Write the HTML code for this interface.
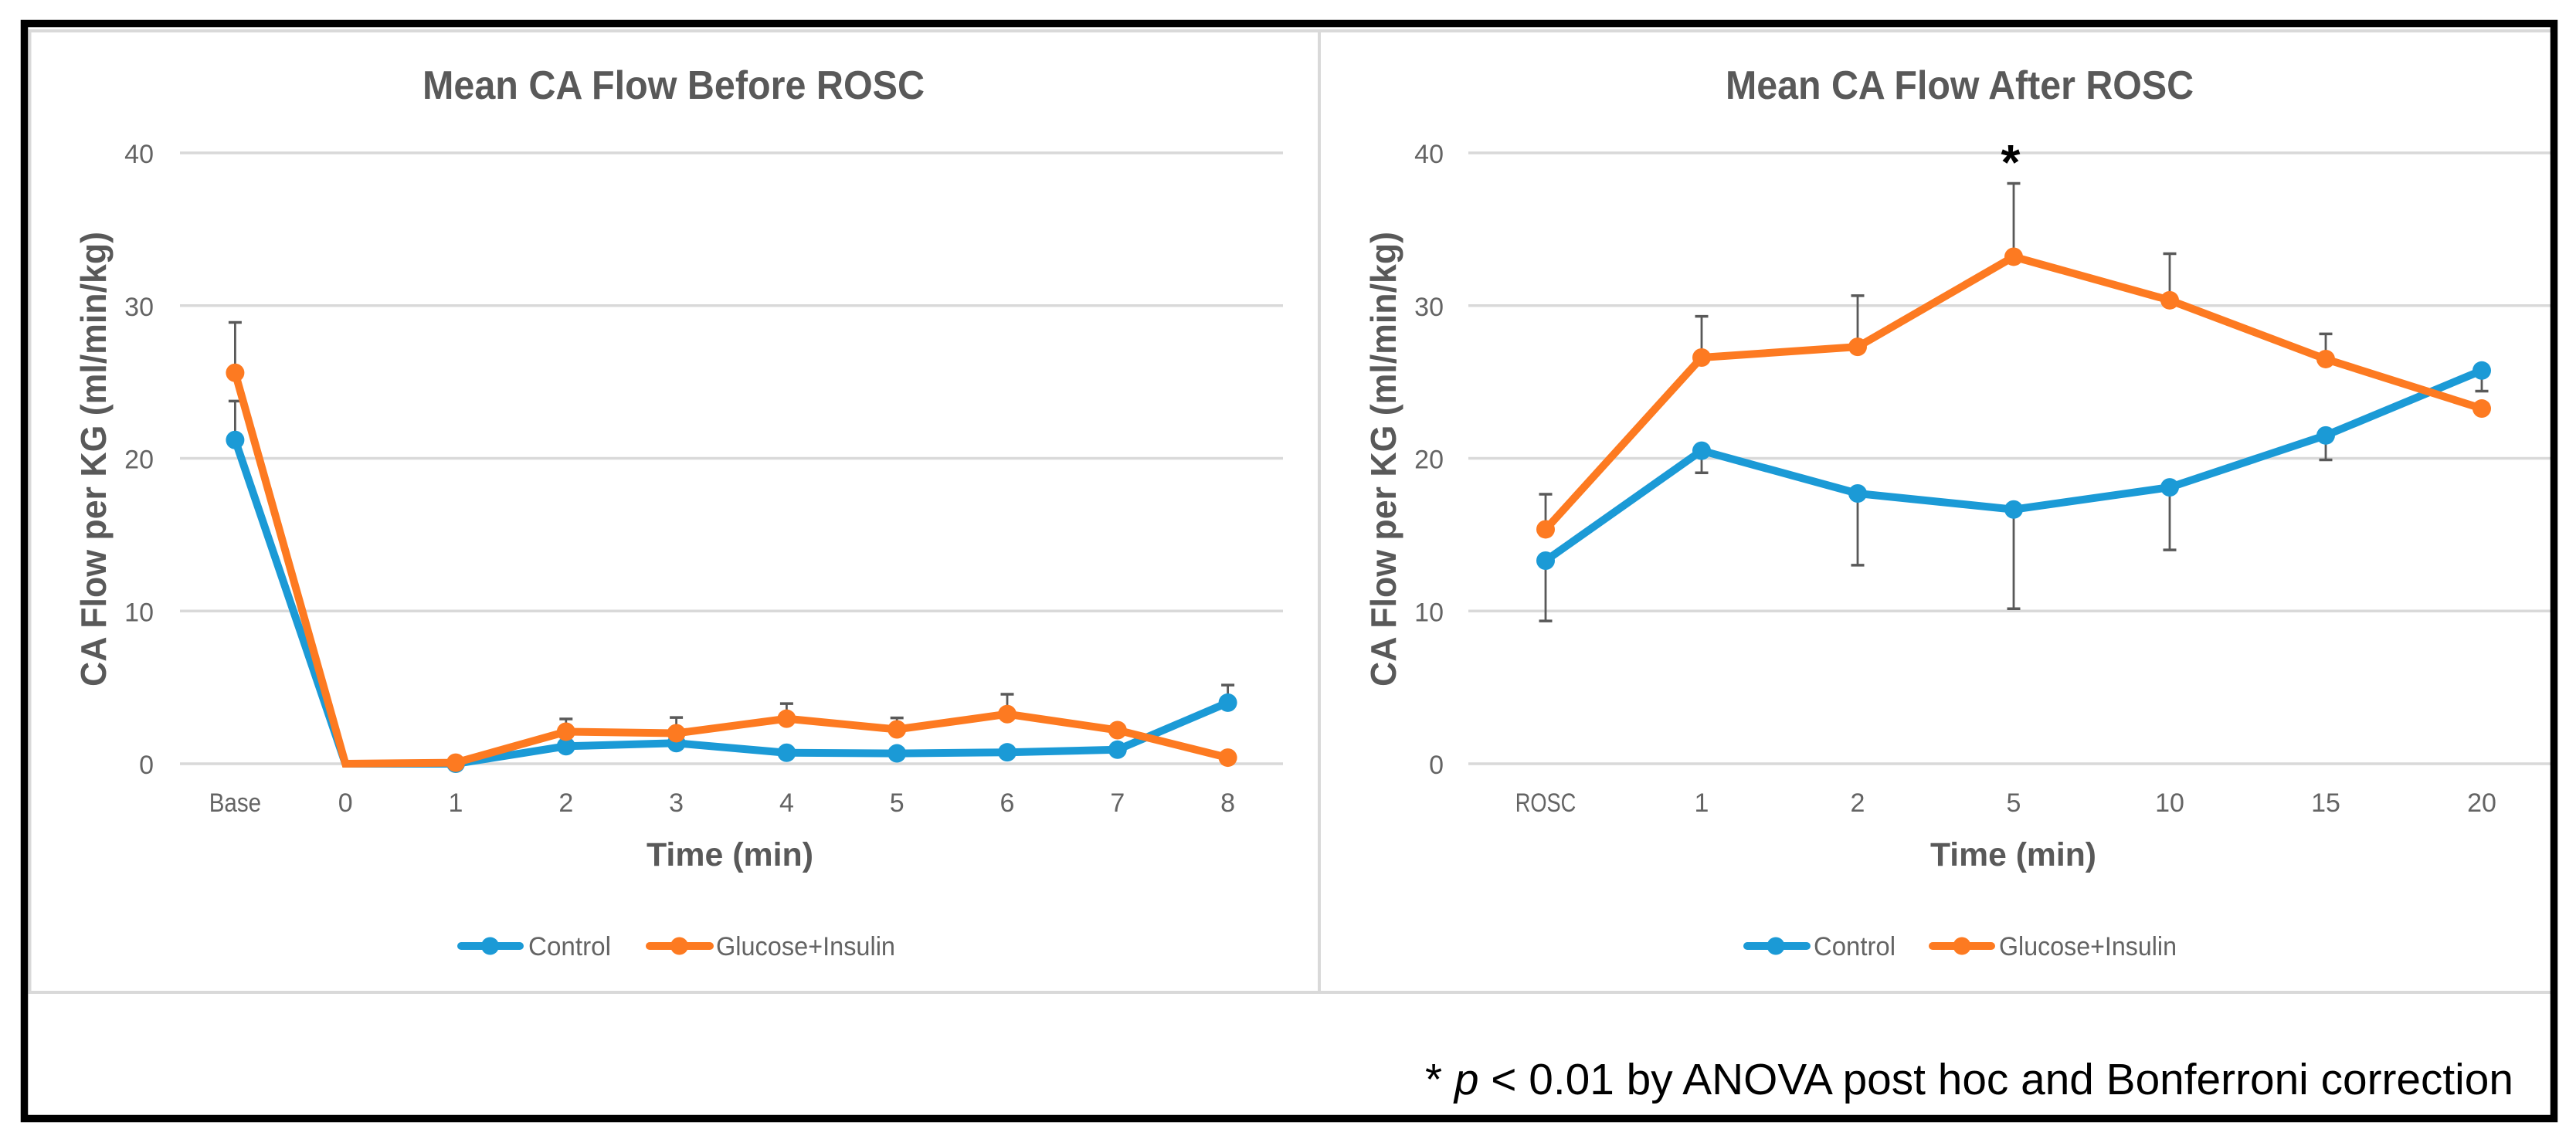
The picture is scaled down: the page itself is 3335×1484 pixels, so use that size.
<!DOCTYPE html>
<html lang="en">
<head>
<meta charset="utf-8">
<title>Mean CA Flow Before and After ROSC</title>
<style>
  html, body { margin: 0; padding: 0; background: #fff; }
  svg { display: block; font-family: "Liberation Sans", sans-serif; }
  .title { font-size: 52px; font-weight: bold; fill: #595959; }
  .axis-title { font-size: 43px; font-weight: bold; fill: #595959; }
  .y-title { font-size: 46px; font-weight: bold; fill: #595959; }
  .tick { font-size: 34px; fill: #646464; }
  .legend-text { font-size: 34px; fill: #646464; }
</style>
</head>
<body>
<svg id="figure" xmlns="http://www.w3.org/2000/svg" width="3335" height="1484" viewBox="0 0 3335 1484">
  <rect x="0" y="0" width="3335" height="1484" fill="#fff"/>

  <!-- chart panel borders -->
  <rect x="38.5" y="40" width="1669.5" height="1245" fill="none" stroke="#d9d9d9" stroke-width="4"/>
  <rect x="1708" y="40" width="1600" height="1245" fill="none" stroke="#d9d9d9" stroke-width="4"/>

  <g id="chart-before"></g>
  <g id="chart-after"></g>

  <!-- titles -->
  <text class="title" x="547" y="128" textLength="650" lengthAdjust="spacingAndGlyphs">Mean CA Flow Before ROSC</text>
  <text class="title" x="2234" y="128" textLength="606" lengthAdjust="spacingAndGlyphs">Mean CA Flow After ROSC</text>

  <!-- axis titles -->
  <text class="y-title" transform="translate(137 889) rotate(-90)" textLength="589" lengthAdjust="spacingAndGlyphs">CA Flow per KG (ml/min/kg)</text>
  <text class="y-title" transform="translate(1807 889) rotate(-90)" textLength="589" lengthAdjust="spacingAndGlyphs">CA Flow per KG (ml/min/kg)</text>
  <text class="axis-title" x="837" y="1121" textLength="216" lengthAdjust="spacingAndGlyphs">Time (min)</text>
  <text class="axis-title" x="2499" y="1121" textLength="215" lengthAdjust="spacingAndGlyphs">Time (min)</text>

  <!-- legend: before -->
  <g>
    <g>
      <line x1="597" y1="1225" x2="673" y2="1225" stroke="#1b9ad6" stroke-width="10" stroke-linecap="round"/>
      <circle cx="634.5" cy="1225" r="11.5" fill="#1b9ad6"/>
      <text class="legend-text" x="684" y="1237" textLength="107" lengthAdjust="spacingAndGlyphs">Control</text>
    </g>
    <g>
      <line x1="841" y1="1225" x2="919" y2="1225" stroke="#fd7a21" stroke-width="10" stroke-linecap="round"/>
      <circle cx="879.5" cy="1225" r="11.5" fill="#fd7a21"/>
      <text class="legend-text" x="927" y="1237" textLength="232" lengthAdjust="spacingAndGlyphs">Glucose+Insulin</text>
    </g>
  </g>

  <!-- legend: after -->
  <g>
    <g>
      <line x1="2262" y1="1225" x2="2339" y2="1225" stroke="#1b9ad6" stroke-width="10" stroke-linecap="round"/>
      <circle cx="2299" cy="1225" r="11.5" fill="#1b9ad6"/>
      <text class="legend-text" x="2348" y="1237" textLength="106" lengthAdjust="spacingAndGlyphs">Control</text>
    </g>
    <g>
      <line x1="2502" y1="1225" x2="2578" y2="1225" stroke="#fd7a21" stroke-width="10" stroke-linecap="round"/>
      <circle cx="2540" cy="1225" r="11.5" fill="#fd7a21"/>
      <text class="legend-text" x="2588" y="1237" textLength="230" lengthAdjust="spacingAndGlyphs">Glucose+Insulin</text>
    </g>
  </g>

  <!-- significance star -->
  <text x="2603" y="232" text-anchor="middle" font-size="64" font-weight="bold" fill="#000">*</text>

  <!-- footnote -->
  <text x="1845" y="1417" font-size="57" fill="#000" textLength="1409" lengthAdjust="spacingAndGlyphs">* <tspan font-style="italic">p</tspan> &lt; 0.01 by ANOVA post hoc and Bonferroni correction</text>

  <!-- outer black frame -->
  <rect x="31.5" y="30.5" width="3275" height="1418" fill="none" stroke="#000" stroke-width="9.5"/>
</svg>

<script>
// ---- shared axis data ----
const yTicks = [0, 10, 20, 30, 40];

// ---- before ROSC ----
const beforeCategories = ['Base', '0', '1', '2', '3', '4', '5', '6', '7', '8'];
const beforeControl = [21.2, 0, 0, 1.15, 1.35, 0.72, 0.68, 0.75, 0.92, 4.0];
const beforeGlucose = [25.6, 0, 0.07, 2.1, 2.0, 2.95, 2.25, 3.25, 2.2, 0.4];
const beforeControlErrUp = [2.55, 0, 0, 0, 0, 0, 0, 0, 0, 1.15];
const beforeGlucoseErrUp = [3.3, 0, 0, 0.83, 1.03, 0.99, 0.75, 1.3, 0, 0];
const beforeHiddenMarkers = ['0'];

// ---- after ROSC ----
const afterCategories = ['ROSC', '1', '2', '5', '10', '15', '20'];
const afterControl = [13.3, 20.5, 17.7, 16.65, 18.1, 21.5, 25.75];
const afterGlucose = [15.35, 26.6, 27.3, 33.2, 30.35, 26.5, 23.26];
const afterControlErrDown = [3.95, 1.45, 4.7, 6.5, 4.1, 1.6, 1.35];
const afterGlucoseErrUp = [2.3, 2.7, 3.35, 4.8, 3.05, 1.65, 0];
const afterHiddenMarkers = [];

const SVG_NS = 'http://www.w3.org/2000/svg';
const BLUE = '#1b9ad6';
const ORANGE = '#fd7a21';

// vertical axis shared by both charts
function yScale(v) {
  return 989 - v * 19.775;
}

function makeEl(tag, attrs, parent) {
  const el = document.createElementNS(SVG_NS, tag);
  for (const k in attrs) el.setAttribute(k, attrs[k]);
  parent.appendChild(el);
  return el;
}

function drawAxes(root, cfg, categories) {
  yTicks.forEach(function (t) {
    const grid = makeEl('line', { x1: cfg.left, x2: cfg.right, y1: yScale(t), y2: yScale(t), stroke: '#d9d9d9', 'stroke-width': 3.5 }, root);
    
    
    const lab = makeEl('text', { x: cfg.tickRight, y: yScale(t) + 13, 'text-anchor': 'end', class: 'tick' }, root);
    lab.textContent = String(t);
    
    
  });
  categories.forEach(function (c, i) {
    const lab = makeEl('text', { x: cfg.x(i), y: 1051, 'text-anchor': 'middle', class: 'tick' }, root);
    lab.textContent = c;
    
    
    if (c.length > 2) {
      lab.setAttribute('textLength', (lab.getComputedTextLength() * cfg.squeeze).toFixed(1));
      lab.setAttribute('lengthAdjust', 'spacingAndGlyphs');
    }
  });
}

function drawErrors(root, cfg, values, errs, dir, label) {
  errs.forEach(function (e, i) {
    if (!e) return;
    const x = cfg.x(i);
    const y1 = yScale(values[i]);
    const y2 = yScale(values[i] + dir * e);
    const stem = makeEl('line', { x1: x, x2: x, y1: y1, y2: y2, stroke: '#595959', 'stroke-width': 2.8 }, root);
    
    
    const cap = makeEl('line', { x1: x - 8.5, x2: x + 8.5, y1: y2, y2: y2, stroke: '#595959', 'stroke-width': 3.5 }, root);
    
    
  });
}

function drawSeries(root, cfg, categories, values, color, label, hidden) {
  const pts = values.map(function (v, i) { return cfg.x(i).toFixed(1) + ',' + yScale(v).toFixed(1); }).join(' ');
  const line = makeEl('polyline', { points: pts, fill: 'none', stroke: color, 'stroke-width': 10, 'stroke-linejoin': 'miter' }, root);
  
  
  values.forEach(function (v, i) {
    if (hidden.indexOf(categories[i]) !== -1) return;
    const dot = makeEl('circle', { cx: cfg.x(i), cy: yScale(v), r: 12, fill: color }, root);
    
    
  });
}

// Before ROSC chart
(function () {
  const root = document.getElementById('chart-before');
  const cfg = {
    left: 233, right: 1661, tickRight: 199, squeeze: 0.87,
    x: function (i) { return 304.4 + i * 142.8; }
  };
  drawAxes(root, cfg, beforeCategories);
  drawErrors(root, cfg, beforeControl, beforeControlErrUp, 1, 'control');
  drawErrors(root, cfg, beforeGlucose, beforeGlucoseErrUp, 1, 'glucose');
  drawSeries(root, cfg, beforeCategories, beforeControl, BLUE, 'control', beforeHiddenMarkers);
  drawSeries(root, cfg, beforeCategories, beforeGlucose, ORANGE, 'glucose', beforeHiddenMarkers);
})();

// After ROSC chart
(function () {
  const root = document.getElementById('chart-after');
  const cfg = {
    left: 1901, right: 3302, tickRight: 1869, squeeze: 0.8,
    x: function (i) { return 2001 + i * 202; }
  };
  drawAxes(root, cfg, afterCategories);
  drawErrors(root, cfg, afterControl, afterControlErrDown, -1, 'control');
  drawErrors(root, cfg, afterGlucose, afterGlucoseErrUp, 1, 'glucose');
  drawSeries(root, cfg, afterCategories, afterControl, BLUE, 'control', afterHiddenMarkers);
  drawSeries(root, cfg, afterCategories, afterGlucose, ORANGE, 'glucose', afterHiddenMarkers);
})();
</script>
</body>
</html>
